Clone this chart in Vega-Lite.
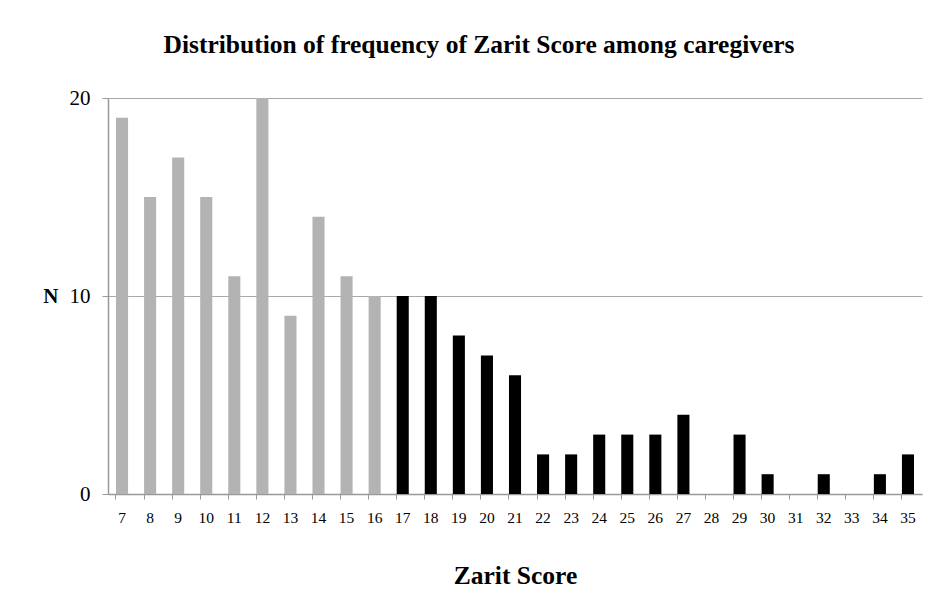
{
  "$schema": "https://vega.github.io/schema/vega-lite/v6.json",
  "width": 814,
  "height": 396,
  "autosize": {"type": "none"},
  "padding": {"left": 108, "top": 98, "right": 14, "bottom": 122},
  "background": "white",
  "title": {
    "text": "Distribution of frequency of Zarit Score among caregivers",
    "font": "Liberation Serif",
    "fontSize": 25.5,
    "fontWeight": "bold",
    "color": "#000000",
    "anchor": "middle",
    "baseline": "alphabetic",
    "offset": 9,
    "dx": -36
  },
  "data": {
    "values": [
      {"score": 7, "n": 19, "group": "low"},
      {"score": 8, "n": 15, "group": "low"},
      {"score": 9, "n": 17, "group": "low"},
      {"score": 10, "n": 15, "group": "low"},
      {"score": 11, "n": 11, "group": "low"},
      {"score": 12, "n": 20, "group": "low"},
      {"score": 13, "n": 9, "group": "low"},
      {"score": 14, "n": 14, "group": "low"},
      {"score": 15, "n": 11, "group": "low"},
      {"score": 16, "n": 10, "group": "low"},
      {"score": 17, "n": 10, "group": "high"},
      {"score": 18, "n": 10, "group": "high"},
      {"score": 19, "n": 8, "group": "high"},
      {"score": 20, "n": 7, "group": "high"},
      {"score": 21, "n": 6, "group": "high"},
      {"score": 22, "n": 2, "group": "high"},
      {"score": 23, "n": 2, "group": "high"},
      {"score": 24, "n": 3, "group": "high"},
      {"score": 25, "n": 3, "group": "high"},
      {"score": 26, "n": 3, "group": "high"},
      {"score": 27, "n": 4, "group": "high"},
      {"score": 28, "n": 0, "group": "high"},
      {"score": 29, "n": 3, "group": "high"},
      {"score": 30, "n": 1, "group": "high"},
      {"score": 31, "n": 0, "group": "high"},
      {"score": 32, "n": 1, "group": "high"},
      {"score": 33, "n": 0, "group": "high"},
      {"score": 34, "n": 1, "group": "high"},
      {"score": 35, "n": 2, "group": "high"}
    ]
  },
  "mark": {"type": "bar"},
  "encoding": {
    "x": {
      "field": "score",
      "type": "ordinal",
      "scale": {"paddingInner": 0.57, "paddingOuter": 0.285},
      "axis": {
        "title": "Zarit Score",
        "titleFont": "Liberation Serif",
        "titleFontSize": 25.5,
        "titleFontWeight": "bold",
        "titleColor": "#000000",
        "titleBaseline": "alphabetic",
        "titleY": 89,
        "titleX": 407,
        "labelAngle": 0,
        "labelFont": "Liberation Serif",
        "labelFontSize": 15.5,
        "labelColor": "#000000",
        "labelPadding": 11,
        "tickSize": 5,
        "tickColor": "#999999",
        "domain": true,
        "domainColor": "#999999",
        "domainWidth": 1.5,
        "bandPosition": 0,
        "grid": false
      }
    },
    "y": {
      "field": "n",
      "type": "quantitative",
      "scale": {"domain": [0, 20], "nice": false},
      "axis": {
        "values": [0, 10, 20],
        "title": "N",
        "titleFont": "Liberation Serif",
        "titleFontSize": 21,
        "titleFontWeight": "bold",
        "titleColor": "#000000",
        "titleAngle": 0,
        "titleAlign": "right",
        "titleBaseline": "middle",
        "titleX": -50,
        "titleY": 198,
        "labelFont": "Liberation Serif",
        "labelFontSize": 21,
        "labelColor": "#000000",
        "labelPadding": 12,
        "tickSize": 6,
        "tickColor": "#999999",
        "domain": true,
        "domainColor": "#999999",
        "domainWidth": 1.5,
        "grid": true,
        "gridColor": "#aaaaaa",
        "gridWidth": 1.2
      }
    },
    "color": {
      "field": "group",
      "type": "nominal",
      "scale": {"domain": ["low", "high"], "range": ["#b3b3b3", "#000000"]},
      "legend": null
    }
  },
  "config": {
    "view": {"stroke": null}
  }
}
